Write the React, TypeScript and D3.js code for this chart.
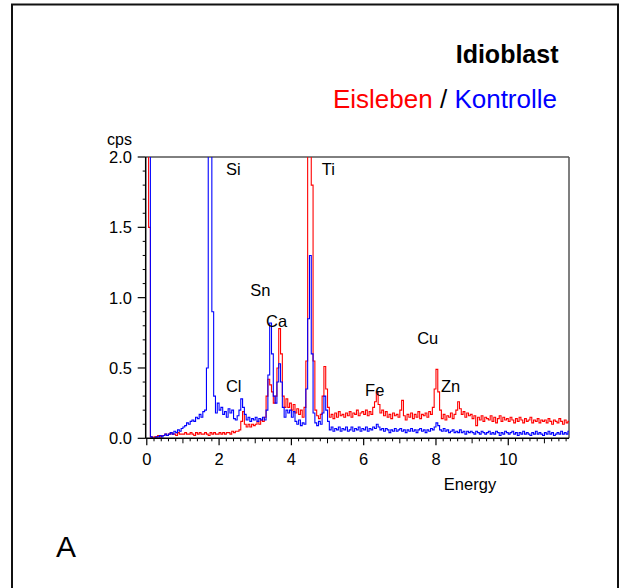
import React from 'react';
import * as d3 from 'd3';

// EDX spectrum, channel step 0.05 keV starting at 0
const energyStep = 0.05;

const eisleben: number[] = [
  2.4, 1.5, 0.01, 0.0, 0.01, 0.01, 0.02, 0.01, 0.02, 0.02, 0.03, 0.02, 0.03, 0.04, 0.03, 0.03, 0.02, 0.04, 0.03, 0.03,
  0.03, 0.04, 0.03, 0.03, 0.04, 0.03, 0.02, 0.04, 0.03, 0.04, 0.03, 0.03, 0.04, 0.03, 0.02, 0.04, 0.03, 0.04, 0.03, 0.03,
  0.04, 0.03, 0.04, 0.03, 0.04, 0.04, 0.03, 0.05, 0.04, 0.05, 0.05, 0.06, 0.12, 0.19, 0.1, 0.08, 0.1, 0.08, 0.1, 0.09,
  0.1, 0.12, 0.1, 0.13, 0.12, 0.15, 0.3, 0.42, 0.38, 0.33, 0.25, 0.3, 0.5, 0.78, 0.6, 0.3, 0.22, 0.28, 0.22, 0.25,
  0.2, 0.24, 0.18, 0.21, 0.17, 0.2, 0.15, 0.22, 0.55, 2.4, 2.4, 1.8, 0.55, 0.2, 0.16, 0.14, 0.17, 0.3, 0.51, 0.35,
  0.22, 0.15, 0.17, 0.14, 0.18, 0.15, 0.19, 0.16, 0.17, 0.15, 0.18, 0.16, 0.19, 0.15, 0.18, 0.17, 0.2, 0.16, 0.18, 0.19,
  0.17, 0.2, 0.16, 0.19, 0.17, 0.22, 0.26, 0.33, 0.24, 0.18, 0.2, 0.16, 0.19, 0.15, 0.17, 0.14, 0.18, 0.16, 0.17, 0.15,
  0.2, 0.27, 0.16, 0.13, 0.17, 0.15, 0.18, 0.14, 0.17, 0.15, 0.19, 0.14, 0.17, 0.16, 0.18, 0.15, 0.19, 0.17, 0.22, 0.35,
  0.49, 0.33, 0.2, 0.14, 0.17, 0.13, 0.16, 0.15, 0.18, 0.14, 0.17, 0.2, 0.26, 0.21, 0.17, 0.19, 0.15, 0.18, 0.16, 0.17,
  0.14, 0.16, 0.09, 0.15, 0.13, 0.16, 0.12, 0.15, 0.14, 0.13, 0.16, 0.12, 0.15, 0.11, 0.14, 0.16, 0.12, 0.15, 0.13, 0.14,
  0.12, 0.15, 0.13, 0.11, 0.14, 0.12, 0.15, 0.13, 0.11, 0.14, 0.12, 0.13, 0.15, 0.11, 0.13, 0.12, 0.14, 0.11, 0.13, 0.12,
  0.13, 0.11, 0.14, 0.12, 0.1, 0.13, 0.12, 0.11, 0.14, 0.12, 0.1, 0.13, 0.11, 0.12, 0.13,
];

const kontrolle: number[] = [
  2.4, 2.4, 0.01, 0.0, 0.0, 0.01, 0.01, 0.02, 0.01, 0.02, 0.03, 0.02, 0.03, 0.04, 0.03, 0.05, 0.04, 0.06, 0.05, 0.07,
  0.08, 0.09, 0.11, 0.1, 0.12, 0.13, 0.12, 0.15, 0.14, 0.17, 0.15, 0.19, 0.2, 0.5, 2.4, 2.4, 0.9, 0.3, 0.18, 0.25,
  0.2, 0.22, 0.17, 0.19, 0.15, 0.21, 0.18, 0.2, 0.14, 0.13, 0.16, 0.2, 0.28, 0.22, 0.17, 0.13, 0.15, 0.12, 0.14, 0.13,
  0.15, 0.12, 0.14, 0.13, 0.15, 0.13, 0.2, 0.45, 0.82, 0.6, 0.3, 0.25, 0.4, 0.53, 0.4, 0.22, 0.15, 0.2, 0.18, 0.2,
  0.15, 0.19, 0.12, 0.1, 0.13, 0.09, 0.11, 0.1, 0.35, 0.85, 1.3, 0.6, 0.18, 0.11, 0.09, 0.12, 0.1, 0.18, 0.3, 0.2,
  0.12, 0.06, 0.08, 0.05, 0.07, 0.06, 0.08, 0.05, 0.07, 0.06, 0.08, 0.05, 0.06, 0.08, 0.05, 0.07, 0.06, 0.08, 0.05, 0.07,
  0.06, 0.08, 0.05, 0.07, 0.06, 0.08, 0.07, 0.1, 0.08, 0.06, 0.07, 0.05, 0.07, 0.06, 0.04, 0.06, 0.05, 0.07, 0.05, 0.06,
  0.07, 0.05, 0.06, 0.04, 0.06, 0.05, 0.07, 0.05, 0.06, 0.04, 0.06, 0.07, 0.05, 0.06, 0.04, 0.06, 0.05, 0.07, 0.06, 0.08,
  0.11, 0.09, 0.06, 0.05, 0.07, 0.05, 0.06, 0.04, 0.05, 0.06, 0.04, 0.05, 0.04, 0.06, 0.04, 0.05, 0.03, 0.05, 0.04, 0.05,
  0.04, 0.03, 0.05, 0.04, 0.03, 0.05, 0.04, 0.03, 0.04, 0.05, 0.03, 0.04, 0.03, 0.05, 0.04, 0.02, 0.04, 0.03, 0.05, 0.04,
  0.03, 0.04, 0.05, 0.03, 0.04, 0.02, 0.04, 0.03, 0.05, 0.03, 0.04, 0.03, 0.02, 0.04, 0.03, 0.05, 0.03, 0.04, 0.03, 0.02,
  0.04, 0.03, 0.05, 0.03, 0.04, 0.02, 0.03, 0.04, 0.03, 0.05, 0.03, 0.04, 0.03, 0.05, 0.04,
];

const xTickValues = [0, 2, 4, 6, 8, 10];
const yTickValues = [0, 0.5, 1, 1.5, 2];

// element labels, anchored in data units (keV, cps)
const peakNames = ['Si', 'Ti', 'Sn', 'Ca', 'Cl', 'Fe', 'Cu', 'Zn'];
const peakEnergy = [2.19, 4.84, 2.86, 3.3, 2.19, 6.04, 7.48, 8.14];
const peakCps = [1.87, 1.87, 1.01, 0.79, 0.33, 0.3, 0.67, 0.33];

const FONT = '"Liberation Sans", Arial, sans-serif';

export default function App() {
  const left = 145.7;
  const right = 569;
  const top = 157;
  const bottom = 438.3;

  const x = d3.scaleLinear().domain([-0.03, 11.68]).range([left, right]);
  const y = d3.scaleLinear().domain([0, 2]).range([bottom, top]);

  const line = d3
    .line<number>()
    .x((_d, i) => x(i * energyStep))
    .y((d) => y(d))
    .curve(d3.curveStepAfter);

  const xMinor = d3.range(0, 11.7, 0.2).filter((v) => Math.abs(v - Math.round(v)) > 0.01);
  const xOdd = [1, 3, 5, 7, 9, 11];
  const yMinor = d3.range(0, 2.01, 0.1).filter((v) => Math.abs(v * 2 - Math.round(v * 2)) > 0.01);

  return (
    <svg
      width={621}
      height={588}
      style={{ position: 'absolute', left: 0, top: 0, background: '#fff' }}
      fontFamily={FONT}
    >
      <defs>
        <clipPath id="plotClip">
          <rect x={left} y={top} width={right - left} height={bottom - top} />
        </clipPath>
      </defs>

      <rect x={12} y={4.5} width={606} height={620} fill="none" stroke="#111" strokeWidth={2} />

      <text x={558.5} y={63} textAnchor="end" fontSize={25} fontWeight="bold" fill="#000">
        Idioblast
      </text>
      <text x={557} y={108} textAnchor="end" fontSize={26}>
        <tspan fill="#ff0000">Eisleben</tspan>
        <tspan fill="#000"> / </tspan>
        <tspan fill="#0000ff">Kontrolle</tspan>
      </text>

      {/* frame */}
      <line x1={left} x2={right} y1={top} y2={top} stroke="#000" strokeWidth={1} />
      <line x1={right} x2={right} y1={top} y2={bottom} stroke="#555" strokeWidth={1.5} />

      <g clipPath="url(#plotClip)">
        <path d={line(eisleben)!} fill="none" stroke="#ff0000" strokeWidth={1.1} />
        <path d={line(kontrolle)!} fill="none" stroke="#0000ff" strokeWidth={1.1} />
      </g>

      {/* axes */}
      <line x1={left} x2={left} y1={top} y2={bottom} stroke="#000" strokeWidth={1.5} />
      <line x1={left} x2={right} y1={bottom} y2={bottom} stroke="#000" strokeWidth={1.5} />

      {xMinor.map((v) => (
        <line key={'xm' + v} x1={x(v)} x2={x(v)} y1={bottom} y2={bottom + 3} stroke="#000" />
      ))}
      {xOdd.map((v) => (
        <line key={'xo' + v} x1={x(v)} x2={x(v)} y1={bottom} y2={bottom + 5} stroke="#000" />
      ))}
      {xTickValues.map((v) => (
        <g key={'xt' + v}>
          <line x1={x(v)} x2={x(v)} y1={bottom} y2={bottom + 7} stroke="#000" strokeWidth={1.2} />
          <text x={x(v)} y={465} textAnchor="middle" fontSize={16.5}>
            {v}
          </text>
        </g>
      ))}

      {yMinor.map((v) => (
        <line key={'ym' + v} x1={left - 3} x2={left} y1={y(v)} y2={y(v)} stroke="#000" />
      ))}
      {yTickValues.map((v) => (
        <g key={'yt' + v}>
          <line x1={left - 8} x2={left} y1={y(v)} y2={y(v)} stroke="#000" strokeWidth={1.2} />
          <text x={132} y={y(v) + 6} textAnchor="end" fontSize={16.5}>
            {v.toFixed(1)}
          </text>
        </g>
      ))}

      <text x={132} y={145} textAnchor="end" fontSize={16}>
        cps
      </text>
      <text x={470} y={490} textAnchor="middle" fontSize={16.5}>
        Energy
      </text>

      {peakNames.map((name, i) => (
        <text key={name} x={x(peakEnergy[i])} y={y(peakCps[i])} fontSize={16.5}>
          {name}
        </text>
      ))}

      <text x={56} y={557} fontSize={30}>
        A
      </text>
    </svg>
  );
}
